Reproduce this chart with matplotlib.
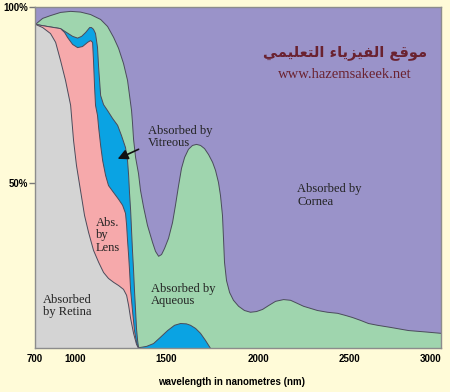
import matplotlib
matplotlib.use("Agg")
import matplotlib.pyplot as plt

# ==================================================
# Data (wavelength in nm, cumulative absorption in %)
# ==================================================

# top of the green band (aqueous), above it is the cornea
aqueous_nm = [781, 820, 863, 918, 973, 1027, 1082, 1137, 1175, 1208, 1235, 1262, 1284, 1295,
              1306, 1311, 1317, 1328, 1344, 1355, 1372, 1393, 1421, 1437, 1454, 1470, 1486,
              1508, 1530, 1546, 1563, 1579, 1596, 1617, 1639, 1661, 1683, 1705, 1727, 1749,
              1765, 1781, 1792, 1803, 1809, 1814, 1825, 1842, 1863, 1891, 1923, 1956, 1989,
              2022, 2055, 2093, 2137, 2175, 2213, 2246, 2284, 2322, 2377, 2432, 2475, 2514,
              2557, 2601, 2650, 2721, 2820, 2913, 3000]
aqueous_pct = [95.2, 96.9, 97.7, 98.6, 98.9, 98.7, 98.0, 96.6, 94.6, 91.5, 88.4, 84.1, 79.3, 75.0,
               70.7, 67.3, 62.5, 57.4, 52.8, 48.0, 43.2, 38.1, 33.2, 30.7, 29.3, 29.8, 31.5,
               34.4, 38.9, 43.8, 49.4, 54.3, 57.4, 59.7, 60.8, 61.1, 60.8, 59.9, 58.2, 56.0,
               53.7, 50.3, 46.6, 40.9, 33.8, 27.6, 22.4, 19.0, 16.8, 15.1, 13.9, 13.4, 13.6,
               14.2, 15.3, 16.5, 17.0, 16.8, 15.9, 15.1, 14.5, 13.9, 13.4, 13.1, 12.5, 11.9,
               11.1, 10.2, 9.7, 9.1, 8.2, 7.8, 7.4]

# top of the blue band (vitreous)
vitreous_nm = [781, 847, 918, 951, 984, 1011, 1033, 1055, 1077, 1087, 1098, 1109, 1120, 1126,
               1137, 1153, 1175, 1202, 1230, 1251, 1273, 1284, 1290, 1295, 1301, 1306, 1311,
               1317, 1322, 1328, 1333, 1339, 1344, 1355, 1388, 1426, 1464, 1503, 1541, 1574,
               1606, 1628, 1656, 1683, 1710, 1738]
vitreous_pct = [95.2, 94.6, 94.0, 92.9, 91.8, 91.3, 91.8, 92.9, 94.3, 94.3, 93.8, 92.6, 88.6, 83.0,
                75.0, 72.4, 70.7, 68.5, 66.5, 63.6, 60.2, 56.5, 52.3, 47.2, 42.3, 36.6, 31.0,
                25.3, 19.6, 13.9, 8.8, 5.4, 3.4, 3.4, 3.7, 4.5, 6.3, 8.2, 9.7, 10.2,
                10.1, 9.7, 8.8, 7.4, 5.4, 3.1]

# top of the pink band (lens)
lens_nm = [781, 847, 918, 940, 956, 984, 1011, 1038, 1066, 1082, 1093, 1098, 1104, 1109, 1120,
           1126, 1137, 1148, 1164, 1180, 1208, 1235, 1257, 1273, 1279, 1284, 1290, 1295, 1301,
           1311, 1322, 1333, 1344]
lens_pct = [95.2, 94.6, 94.0, 92.9, 91.5, 89.5, 88.6, 88.9, 90.1, 90.6, 90.1, 84.9, 77.3, 72.2, 69.3,
            65.9, 60.8, 56.5, 52.3, 49.4, 47.4, 45.5, 43.8, 41.5, 38.1, 33.8, 29.5, 25.3, 19.6,
            13.9, 8.2, 4.8, 3.1]

# top of the grey band (retina)
retina_nm = [781, 820, 863, 891, 918, 945, 973, 989, 1005, 1027, 1049, 1071, 1098, 1126, 1153,
             1180, 1208, 1235, 1262, 1279, 1290, 1301, 1317, 1333, 1344]
retina_pct = [95.2, 94.3, 92.6, 90.1, 84.9, 79.3, 72.2, 62.2, 55.1, 48.0, 40.9, 36.1, 31.0, 27.6, 24.7,
              23.0, 21.9, 21.0, 19.9, 18.2, 15.3, 11.6, 7.4, 4.3, 3.1]

xtick_pos = [781, 1000, 1500, 2000, 2500, 3000]
xtick_labels = ["700", "1000", "1500", "2000", "2500", "3000"]
ytick_pos = [50, 100]
ytick_labels = ["50%", "100%"]

# ==================================================
# Colours
# ==================================================
bg = "#FFFBD8"
purple = "#9A93C9"
green = "#9FD5AE"
blue = "#0AA3E3"
pink = "#F6A9AB"
grey = "#D4D4D4"
edge = "#4B4B5B"
maroon = "#6A2230"

fig = plt.figure(figsize=(4.5, 3.92), dpi=100, facecolor=bg)
ax = fig.add_axes([35 / 450, 44 / 392, 406 / 450, 341 / 392])
ax.set_facecolor(purple)

layers = [(aqueous_nm, aqueous_pct, green),
          (vitreous_nm, vitreous_pct, blue),
          (lens_nm, lens_pct, pink),
          (retina_nm, retina_pct, grey)]
for z, (x, y, c) in enumerate(layers):
    ax.fill_between(x, y, 0, facecolor=c, edgecolor=edge, linewidth=0.7, zorder=2 + z)

ax.set_xlim(781, 3000)
ax.set_ylim(3.1, 100)

# ==================================================
# Labels
# ==================================================
serif = "Liberation Serif"
lab = dict(fontsize=9, family=serif, color="#222222", linespacing=1.05, va="center", ha="left", zorder=10)
ax.text(1399, 63.1, "Absorbed by\nVitreous", **lab)
ax.text(2213, 46.4, "Absorbed by\nCornea", **lab)
ax.text(1115, 35.1, "Abs.\nby\nLens", **lab)
ax.text(823, 15.1, "Absorbed\nby Retina", **lab)
ax.text(1415, 18.2, "Absorbed by\nAqueous", **lab)

ax.annotate("", xy=(1219, 56.5), xytext=(1361, 59.9),
            arrowprops=dict(arrowstyle="-|>,head_length=0.6,head_width=0.3", color="#111111", lw=1.2),
            zorder=11)

# Arabic title, written in shaped (presentation) forms, visual order
ax.text(2476, 87.2, "ﻲﻤﻴﻠﻌﺘﻟﺍ ﺀﺎﻳﺰﻴﻔﻟﺍ ﻊﻗﻮﻣ", fontsize=10.5, family="DejaVu Sans",
        weight="bold", color=maroon, ha="center", va="center", zorder=10)
ax.text(2476, 80.7, "www.hazemsakeek.net", fontsize=10.5, family=serif,
        color=maroon, ha="center", va="center", zorder=10)

ax.set_xticks(xtick_pos)
ax.set_xticklabels(xtick_labels, fontsize=7, fontweight="bold", family="Liberation Sans")
ax.set_yticks(ytick_pos)
ax.set_yticklabels(ytick_labels, fontsize=7, fontweight="bold", family="Liberation Sans")
ax.tick_params(axis="x", length=0, pad=4)
ax.tick_params(axis="y", length=4, width=1, color="#777777", pad=1)
ax.get_xticklabels()[-1].set_horizontalalignment("right")

ax.set_xlabel("wavelength in nanometres (nm)", fontsize=7, fontweight="bold",
              family="Liberation Sans")
ax.xaxis.set_label_coords(0.485, -0.085)

for s in ax.spines.values():
    s.set_color("#8C8C8C")
    s.set_linewidth(1)
    s.set_zorder(12)

fig.savefig("out.png", dpi=100, facecolor=bg)
